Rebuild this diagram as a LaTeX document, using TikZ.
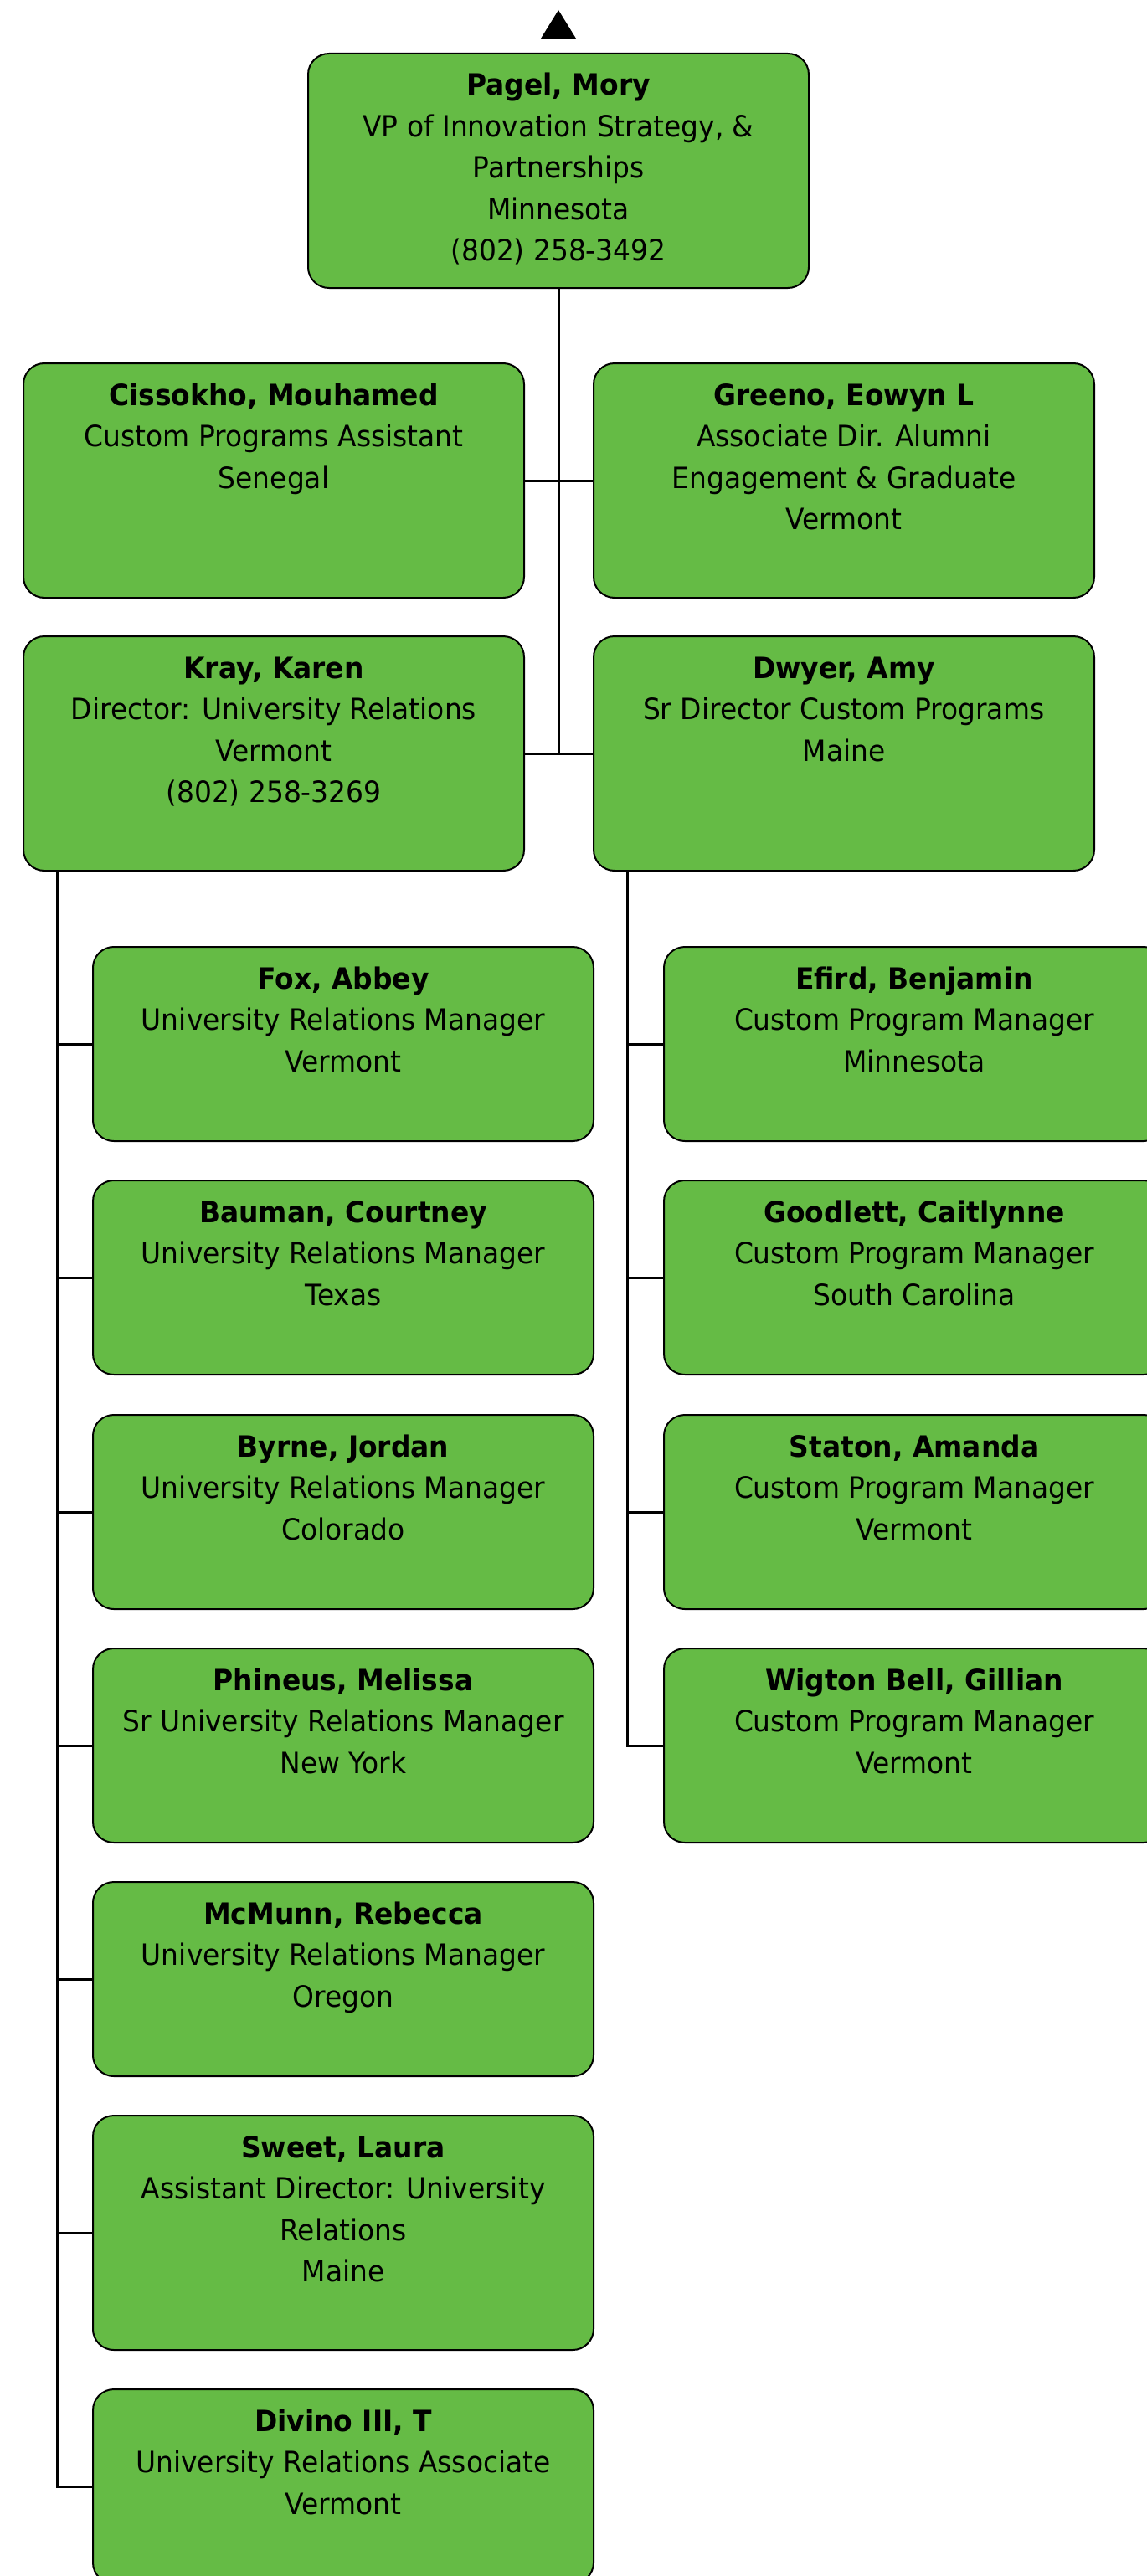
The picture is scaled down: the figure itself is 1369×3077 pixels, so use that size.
\documentclass[tikz,border=0pt]{standalone}
\usepackage{fontspec}
\setmainfont{DejaVu Sans}[FakeStretch=0.94]
\usepackage{tikz}
\usetikzlibrary{positioning}
\definecolor{staffgreen}{RGB}{101,187,69}

\newcommand{\staffcard}[3][232]{\parbox[c][#1pt][t]{598pt}{\centering
  \fontsize{35}{49.5}\selectfont\rule{0pt}{50pt}\textbf{#2}\\#3}}

\tikzset{
  staff/.style={draw, line width=2pt, rounded corners=25pt, fill=staffgreen,
    inner sep=0pt, anchor=north},
  link/.style={line width=3pt}
}

\begin{document}
\begin{tikzpicture}[x=1pt,y=-1pt]
\useasboundingbox (0,0) rectangle (1369,3077);
\fill (646,46) -- (667,12) -- (688,46) -- cycle;
\node[staff] (pagel) at (667,63) {\staffcard[280]{Pagel, Mory}{VP of Innovation Strategy, \&\\Partnerships\\Minnesota\\(802) 258-3492}};
\node[staff] (cissokho) at (327,433) {\staffcard[280]{Cissokho, Mouhamed}{Custom Programs Assistant\\Senegal}};
\node[staff] (greeno) at (1008,433) {\staffcard[280]{Greeno, Eowyn L}{Associate Dir. Alumni\\Engagement \& Graduate\\Vermont}};
\node[staff] (kray) at (327,759) {\staffcard[280]{Kray, Karen}{Director: University Relations\\Vermont\\(802) 258-3269}};
\node[staff] (dwyer) at (1008,759) {\staffcard[280]{Dwyer, Amy}{Sr Director Custom Programs\\Maine}};
% University Relations
\node[staff] (fox) at (410,1130) {\staffcard{Fox, Abbey}{University Relations Manager\\Vermont}};
\node[staff] (bauman) at (410,1409) {\staffcard{Bauman, Courtney}{University Relations Manager\\Texas}};
\node[staff] (byrne) at (410,1689) {\staffcard{Byrne, Jordan}{University Relations Manager\\Colorado}};
\node[staff] (phineus) at (410,1968) {\staffcard{Phineus, Melissa}{Sr University Relations Manager\\New York}};
\node[staff] (mcmunn) at (410,2247) {\staffcard{McMunn, Rebecca}{University Relations Manager\\Oregon}};
\node[staff] (sweet) at (410,2526) {\staffcard[280]{Sweet, Laura}{Assistant Director: University\\Relations\\Maine}};
\node[staff] (divino) at (410,2853) {\staffcard{Divino III, T}{University Relations Associate\\Vermont}};
% Custom Programs
\node[staff] (efird) at (1092,1130) {\staffcard{Efird, Benjamin}{Custom Program Manager\\Minnesota}};
\node[staff] (goodlett) at (1092,1409) {\staffcard{Goodlett, Caitlynne}{Custom Program Manager\\South Carolina}};
\node[staff] (staton) at (1092,1689) {\staffcard{Staton, Amanda}{Custom Program Manager\\Vermont}};
\node[staff] (wigton) at (1092,1968) {\staffcard{Wigton Bell, Gillian}{Custom Program Manager\\Vermont}};

\draw[link] (pagel.south) -- (pagel.south |- kray.east);
\draw[link] (cissokho.east) -- (greeno.west);
\draw[link] (kray.east) -- (dwyer.west);
\coordinate (krayline) at ([xshift=41pt]kray.south west);
\coordinate (dwyerline) at ([xshift=41pt]dwyer.south west);
\draw[link] (krayline) |- (divino.west);
\draw[link] (dwyerline) |- (wigton.west);
\foreach \n in {fox,bauman,byrne,phineus,mcmunn,sweet}
  \draw[link] (krayline |- \n.west) -- (\n.west);
\foreach \n in {efird,goodlett,staton}
  \draw[link] (dwyerline |- \n.west) -- (\n.west);
\end{tikzpicture}
\end{document}
